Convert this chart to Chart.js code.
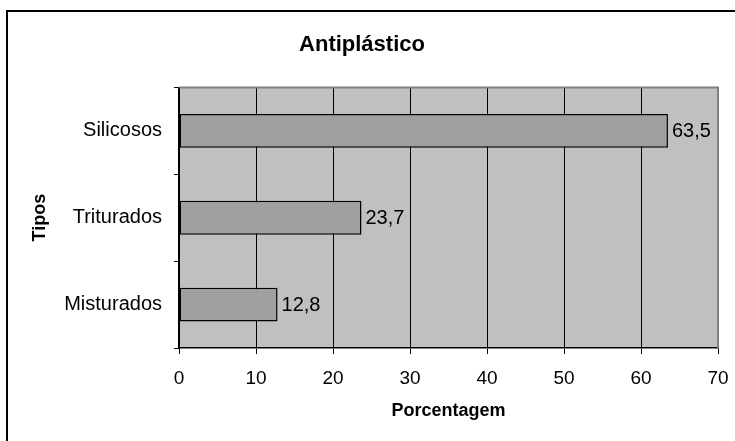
<!DOCTYPE html>
<html>
<head>
<meta charset="utf-8">
<script src="https://cdn.jsdelivr.net/npm/chart.js@4"></script>
<style>
  html, body { margin: 0; padding: 0; background: #fff; }
  #wrap { width: 735px; height: 441px; }
</style>
</head>
<body>
<div id="wrap"><canvas id="barChart" width="735" height="441"></canvas></div>
<script>
const categories = ["Silicosos", "Triturados", "Misturados"];
const values = [63.5, 23.7, 12.8];
const xTicks = [0, 10, 20, 30, 40, 50, 60, 70];

const FONT = "'Liberation Sans', Arial, sans-serif";

// frame, grey plot background and grey top/right edges
const chartDecor = {
  id: "chartDecor",
  beforeDraw(chart) {
    const { ctx, chartArea: a } = chart;
    ctx.save();
    ctx.fillStyle = "#c0c0c0";
    ctx.fillRect(a.left, a.top, a.right - a.left, a.bottom - a.top);
    ctx.strokeStyle = "#000";
    ctx.lineWidth = 2;
    ctx.strokeRect(7, 11, 760, 460);
    ctx.restore();
  },
  afterDraw(chart) {
    const { ctx, chartArea: a } = chart;
    ctx.save();
    ctx.strokeStyle = "#808080";
    ctx.lineWidth = 2;
    ctx.beginPath();
    ctx.moveTo(a.left, a.top);
    ctx.lineTo(a.right, a.top);
    ctx.lineTo(a.right, a.bottom);
    ctx.stroke();
    ctx.restore();
  },
};

// value labels next to each bar
const barLabels = {
  id: "barLabels",
  afterDatasetsDraw(chart) {
    const { ctx } = chart;
    const meta = chart.getDatasetMeta(0);
    ctx.save();
    ctx.font = "20px " + FONT;
    ctx.fillStyle = "#000";
    ctx.textAlign = "left";
    ctx.textBaseline = "middle";
    meta.data.forEach((bar, i) => {
      ctx.fillText(String(values[i]).replace(".", ","), bar.x + 4, bar.y + 1);
    });
    ctx.restore();
  },
};

var ctx = document.getElementById("barChart").getContext("2d");

var barChart = new Chart(ctx, {
  type: "bar",
  data: {
    labels: categories,
    datasets: [
      {
        label: "Antiplástico",
        data: values,
        backgroundColor: "#a0a0a0",
        borderColor: "#000",
        borderWidth: 1.5,
        borderSkipped: false,
        barPercentage: 0.39,
        categoryPercentage: 1,
      },
    ],
  },
  options: {
    indexAxis: "y",
    responsive: false,
    animation: false,
    layout: { padding: { left: 6, right: 17, top: 0, bottom: 0 } },
    scales: {
      x: {
        min: 0,
        max: 70,
        afterBuildTicks: (s) => {
          s.ticks = xTicks.map((v) => ({ value: v }));
        },
        afterFit: (s) => {
          s.height = 93;
          s.paddingRight = 0;
          s.paddingLeft = 0;
        },
        grid: {
          color: "#000",
          lineWidth: 1,
          tickLength: 6,
          drawOnChartArea: true,
        },
        border: { color: "#000", width: 1.5 },
        ticks: {
          color: "#000",
          padding: 13,
          font: { family: FONT, size: 19 },
          maxRotation: 0,
        },
        title: {
          display: true,
          text: "Porcentagem",
          color: "#000",
          font: { family: FONT, size: 18, weight: "bold" },
          padding: { top: 0, bottom: 19 },
        },
      },
      y: {
        afterFit: (s) => {
          s.width = 173;
        },
        grid: {
          color: "#000",
          drawOnChartArea: false,
          tickLength: 5,
          offset: true,
        },
        border: { color: "#000", width: 1.5 },
        ticks: {
          color: "#000",
          padding: 12,
          font: { family: FONT, size: 20 },
        },
        title: {
          display: true,
          text: "Tipos",
          color: "#000",
          font: { family: FONT, size: 18, weight: "bold" },
          padding: { top: 23, bottom: 0 },
        },
      },
    },
    plugins: {
      legend: { display: false },
      tooltip: { enabled: false },
      title: {
        display: true,
        text: "Antiplástico",
        color: "#000",
        font: { family: FONT, size: 22, weight: "bold" },
        padding: { top: 32, bottom: 29 },
      },
    },
  },
  plugins: [chartDecor, barLabels],
});
</script>
</body>
</html>
